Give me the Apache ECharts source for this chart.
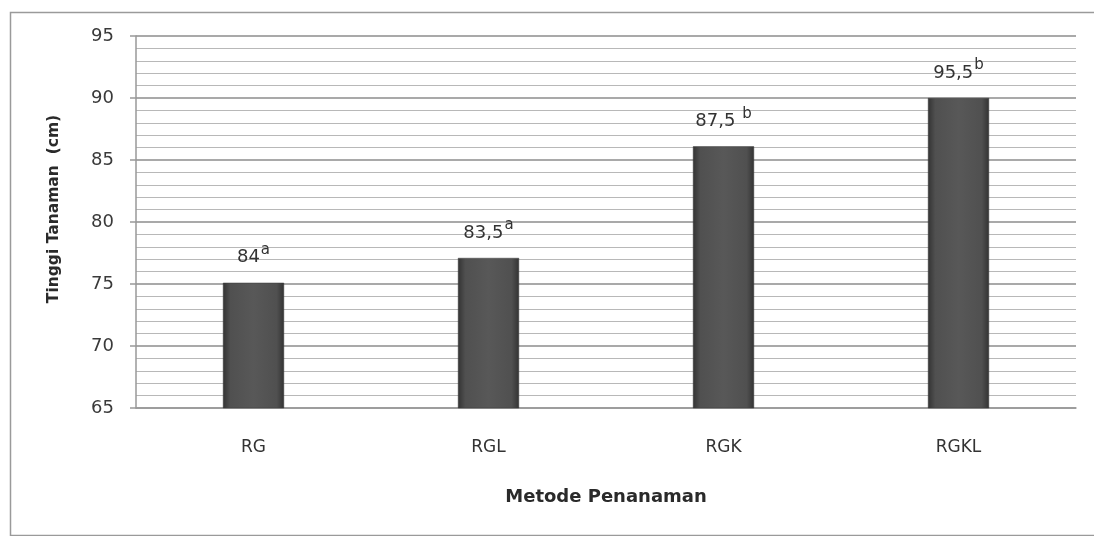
<!DOCTYPE html>
<html>
<head>
<meta charset="utf-8">
<script src="https://cdn.jsdelivr.net/npm/echarts@6/dist/echarts.min.js"></script>
<style>html,body{margin:0;padding:0;background:#fff;}#c{width:1094px;height:536px;}</style>
</head>
<body>
<div id="c"></div>
<script>
const categories = ['RG', 'RGL', 'RGK', 'RGKL'];
const values = [75.1, 77.1, 86.1, 90.0];
const labelMain = ['84', '83,5', '87,5 ', '95,5'];
const labelSup = ['a', 'a', 'b', 'b'];
const yTicks = [65, 70, 75, 80, 85, 90, 95];

const chart = echarts.init(document.getElementById('c'));
const font = 'DejaVu Sans, sans-serif';
chart.setOption({
  backgroundColor: '#fff',
  animation: false,
  graphic: [{
    type: 'rect', left: 8, top: 10, silent: true,
    shape: { width: 1100, height: 523 },
    style: { fill: 'none', stroke: '#9a9a9a', lineWidth: 1.5 }
  }],
  grid: { left: 136, right: 18, top: 36, bottom: 128 },
  xAxis: {
    type: 'category',
    data: categories,
    name: 'Metode Penanaman',
    nameLocation: 'middle',
    nameGap: 80,
    nameTextStyle: { fontFamily: font, fontSize: 18, fontWeight: 'bold', color: '#2a2a2a' },
    axisLine: { lineStyle: { color: '#999', width: 1.5 } },
    axisTick: { show: false },
    axisLabel: { margin: 31, fontFamily: font, fontSize: 17, color: '#333' }
  },
  yAxis: {
    type: 'value',
    min: yTicks[0], max: yTicks[yTicks.length - 1], interval: 5,
    name: 'Tinggi Tanaman  (cm)',
    nameLocation: 'middle',
    nameGap: 74,
    nameRotate: 90,
    nameTextStyle: { fontFamily: font, fontSize: 15.5, fontWeight: 'bold', color: '#2a2a2a', padding: [0, 0, 0, 26] },
    axisLine: { show: true, lineStyle: { color: '#999', width: 1.5 } },
    axisTick: { show: true, inside: false, length: 6, lineStyle: { color: '#999', width: 1.5 } },
    minorTick: { show: false, splitNumber: 5 },
    axisLabel: { margin: 22, fontFamily: font, fontSize: 18, color: '#3a3a3a' },
    splitLine: { show: true, lineStyle: { color: '#8c8c8c', width: 1.5 } },
    minorSplitLine: { show: true, lineStyle: { color: '#b8b8b8', width: 1.2 } }
  },
  series: [{
    type: 'bar',
    data: values,
    barWidth: '26%',
    itemStyle: {
      color: new echarts.graphic.LinearGradient(0, 0, 1, 0, [
        { offset: 0, color: '#333' },
        { offset: 0.12, color: '#505050' },
        { offset: 0.5, color: '#585858' },
        { offset: 0.88, color: '#505050' },
        { offset: 1, color: '#333' }
      ]),
      borderColor: '#3a3a3a',
      borderWidth: 0.5
    },
    label: {
      show: true,
      position: 'top',
      distance: 16,
      formatter: function (p) {
        return '{v|' + labelMain[p.dataIndex] + '}{s|' + labelSup[p.dataIndex] + '}';
      },
      rich: {
        v: { fontFamily: font, fontSize: 18, color: '#333', verticalAlign: 'bottom' },
        s: { fontFamily: font, fontSize: 15, color: '#333', padding: [0, 0, 9, 1], verticalAlign: 'bottom' }
      }
    }
  }]
});
</script>
</body>
</html>
